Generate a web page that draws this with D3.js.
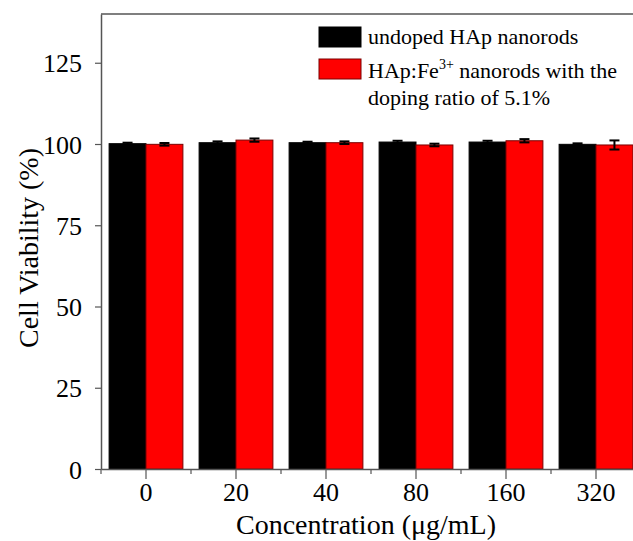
<!DOCTYPE html>
<html>
<head>
<meta charset="utf-8">
<script src="https://cdn.jsdelivr.net/npm/d3@7"></script>
<style>
  body { margin: 0; background: #fff; }
</style>
</head>
<body>
<svg width="633" height="541"></svg>
<script>
// concentrations on the x axis
var concentrations = ["0", "20", "40", "80", "160", "320"];
var seriesNames = ["undoped", "doped"];

// cell viability (%)
var undoped = [100.1, 100.4, 100.4, 100.6, 100.6, 99.9];
var undopedErr = [0.3, 0.4, 0.3, 0.4, 0.4, 0.3];
var doped = [99.9, 101.2, 100.4, 99.7, 101.0, 99.7];
var dopedErr = [0.4, 0.5, 0.4, 0.4, 0.5, 1.4];
var yTicks = [0, 25, 50, 75, 100, 125];

var colors = { undoped: "#000000", doped: "#ff0000" };
var strokes = { undoped: "#000000", doped: "#7a0000" };
var serif = "'Liberation Serif', 'Times New Roman', Times, 'DejaVu Serif', serif";

var svg = d3.select("svg");
var margin = { left: 101, top: 14, bottom: 72 };
var plotW = 540; // right border falls outside the window
var plotH = 541 - margin.top - margin.bottom;

var g = svg.append("g").attr("transform", translate(margin.left, margin.top));

var x = d3.scaleBand().domain(concentrations).range([0, plotW]).paddingInner(0.18).paddingOuter(0.09);
var xBand = d3.scaleBand().domain(concentrations).range([0, plotW]);
var xSub = d3.scaleBand().domain(seriesNames).range([0, x.bandwidth()]);
var y = d3.scaleLinear().domain([0, 140]).range([plotH, 0]);

var rows = concentrations.map(function(c, i) {
  return [
    { c: c, key: "undoped", v: undoped[i], e: undopedErr[i] },
    { c: c, key: "doped", v: doped[i], e: dopedErr[i] }
  ];
});

var groups = g.selectAll("g.group")
  .data(rows)
  .enter()
  .append("g")
  .attr("class", "group")
  .attr("transform", function(d) { return translate(x(d[0].c), 0); });

groups.selectAll("rect")
  .data(function(d) { return d; })
  .enter()
  .append("rect")
  .attr("x", function(d) { return xSub(d.key); })
  .attr("width", xSub.bandwidth())
  .attr("y", function(d) { return y(d.v); })
  .attr("height", function(d) { return plotH - y(d.v); })
  .attr("fill", function(d) { return colors[d.key]; })
  .attr("stroke", function(d) { return strokes[d.key]; })
  .attr("stroke-width", 1);

// error bars
var err = groups.selectAll("g.err")
  .data(function(d) { return d; })
  .enter()
  .append("g")
  .attr("class", "err")
  .attr("stroke", "#000")
  .attr("stroke-width", 2);

err.append("line")
  .attr("x1", function(d) { return xSub(d.key) + xSub.bandwidth() / 2; })
  .attr("x2", function(d) { return xSub(d.key) + xSub.bandwidth() / 2; })
  .attr("y1", function(d) { return y(d.v - d.e); })
  .attr("y2", function(d) { return y(d.v + d.e); });

err.selectAll("line.cap")
  .data(function(d) { return [d.v - d.e, d.v + d.e].map(function(v) { return { key: d.key, v: v }; }); })
  .enter()
  .append("line")
  .attr("class", "cap")
  .attr("x1", function(d) { return xSub(d.key) + xSub.bandwidth() / 2 - 5; })
  .attr("x2", function(d) { return xSub(d.key) + xSub.bandwidth() / 2 + 5; })
  .attr("y1", function(d) { return y(d.v); })
  .attr("y2", function(d) { return y(d.v); });

// frame top line
g.append("line")
  .attr("x1", 0).attr("x2", plotW)
  .attr("y1", 0).attr("y2", 0)
  .attr("stroke", "#555").attr("stroke-width", 1.5);

// y axis
var yAxis = g.append("g")
  .call(d3.axisLeft(y).tickValues(yTicks).tickSize(6).tickPadding(13).tickSizeOuter(0));
yAxis.select(".domain").attr("stroke", "#555").attr("stroke-width", 1.5);
yAxis.selectAll(".tick line").attr("stroke", "#555").attr("stroke-width", 1.2);
yAxis.selectAll("text").style("font-size", "26px").attr("dy", "0.35em");

// x axis: major ticks at category centres, minor ticks between
var xAxis = g.append("g")
  .attr("transform", translate(0, plotH))
  .call(d3.axisBottom(x).tickSize(10).tickPadding(4).tickSizeOuter(0));
xAxis.select(".domain").attr("stroke", "#555").attr("stroke-width", 1.5);
xAxis.selectAll(".tick line").attr("stroke", "#555").attr("stroke-width", 1.2);
xAxis.selectAll("text").style("font-size", "26px");

xAxis.selectAll("line.minor")
  .data(concentrations)
  .enter()
  .append("line")
  .attr("class", "minor")
  .attr("x1", function(d) { return xBand(d); })
  .attr("x2", function(d) { return xBand(d); })
  .attr("y1", 0).attr("y2", 5)
  .attr("stroke", "#555").attr("stroke-width", 1.2);

// axis titles
svg.append("text")
  .attr("x", margin.left + 3 * xBand.step() - 5)
  .attr("y", 534)
  .attr("text-anchor", "middle")
  .style("font-size", "28px")
  .text("Concentration (\u03bcg/mL)");

svg.append("text")
  .attr("transform", "translate(38," + (margin.top + y(68)) + ") rotate(-90)")
  .attr("text-anchor", "middle")
  .style("font-size", "28px")
  .text("Cell Viability (%)");

// legend
var legend = svg.append("g").attr("transform", translate(319, 27));
legend.append("rect").attr("width", 42).attr("height", 20)
  .attr("fill", colors.undoped).attr("stroke", strokes.undoped);
legend.append("text").attr("x", 49).attr("y", 17).style("font-size", "22px")
  .text("undoped HAp nanorods");

legend.append("rect").attr("y", 32).attr("width", 42).attr("height", 20)
  .attr("fill", colors.doped).attr("stroke", strokes.doped);
var t2 = legend.append("text").attr("x", 49).attr("y", 51).style("font-size", "22px");
t2.append("tspan").text("HAp:Fe");
t2.append("tspan").attr("dy", -9).style("font-size", "14px").text("3+");
t2.append("tspan").attr("dy", 9).text(" nanorods with the");
legend.append("text").attr("x", 49).attr("y", 78).style("font-size", "22px")
  .text("doping ratio of 5.1%");

// serif everywhere, including the axis labels
svg.selectAll("text")
  .attr("font-family", null)
  .style("font-family", serif)
  .style("fill", "#000");
svg.selectAll("g").attr("font-family", serif);

function translate(x, y) {
  return "translate(" + String(x) + "," + String(y) + ")";
}
</script>
</body>
</html>
